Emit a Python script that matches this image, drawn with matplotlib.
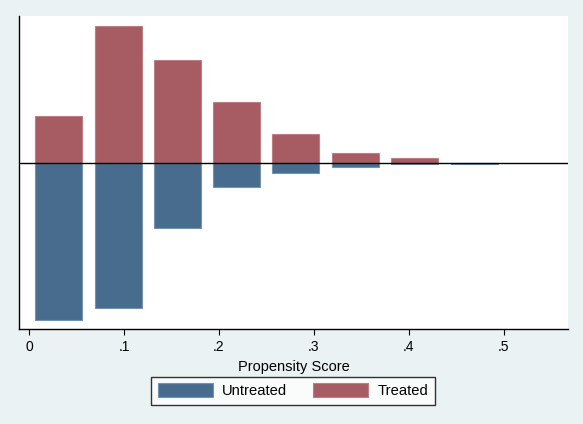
import matplotlib
matplotlib.use("Agg")
import matplotlib.pyplot as plt
from matplotlib.patches import Patch

# Data (units are arbitrary frequency units)
bin_centers = [0.031, 0.094, 0.156, 0.218, 0.281, 0.344, 0.406, 0.469]
treated = [47, 137.5, 103.5, 61.5, 29.5, 10.5, 5.0, 0.6]
untreated = [157, 145, 65, 24, 9.3, 3.7, 0.3, 0.8]
xtick_vals = [0, 0.1, 0.2, 0.3, 0.4, 0.5]
xtick_labels = ["0", ".1", ".2", ".3", ".4", ".5"]

bar_width = 0.0495
blue = "#486C8D"
blue_edge = "#7593AE"
red = "#A65C62"
red_edge = "#BC7F84"
bg = "#EAF2F3"

plt.rcParams["font.family"] = ["Liberation Sans", "DejaVu Sans"]

fig = plt.figure(figsize=(5.83, 4.24), dpi=100)
fig.patch.set_facecolor(bg)
ax = fig.add_axes([19 / 583, 1 - 329.3 / 424, (568 - 19) / 583, (329.3 - 16) / 424])
ax.set_facecolor("white")

ax.bar(bin_centers, treated, width=bar_width, color=red, edgecolor=red_edge, linewidth=0.8, zorder=2)
ax.bar(bin_centers, [-u for u in untreated], width=bar_width, color=blue, edgecolor=blue_edge, linewidth=0.8, zorder=2)
ax.axhline(0, color="black", linewidth=1.0, zorder=3)

ax.set_xlim(-0.0105, 0.5674)
ax.set_ylim(-166, 147.3)
ax.set_xticks(xtick_vals)
ax.set_xticklabels(xtick_labels, fontsize=10)
ax.set_yticks([])
ax.tick_params(axis="x", direction="out", length=4, width=0.8, pad=4, colors="black")
for s in ["top", "right"]:
    ax.spines[s].set_visible(False)
for s in ["left", "bottom"]:
    ax.spines[s].set_linewidth(1.0)
    ax.spines[s].set_color("black")
ax.set_xlabel("Propensity Score", fontsize=10.5, labelpad=4)

handles = [Patch(facecolor=blue, edgecolor=blue_edge, linewidth=0.8, label="Untreated"),
           Patch(facecolor=red, edgecolor=red_edge, linewidth=0.8, label="Treated")]
fs = 10.6
px = fs * 100 / 72
leg = fig.legend(handles=handles, loc="center", bbox_to_anchor=(293 / 583, 1 - 390.7 / 424),
                 ncol=2, fontsize=fs, frameon=True, fancybox=False,
                 handlelength=55 / px, handleheight=15 / px, handletextpad=9 / px,
                 columnspacing=26 / px, borderpad=0.45, borderaxespad=0)
leg.get_frame().set_edgecolor("black")
leg.get_frame().set_linewidth(1.0)
leg.get_frame().set_facecolor("white")

fig.savefig("out.png", dpi=100, facecolor=bg)
